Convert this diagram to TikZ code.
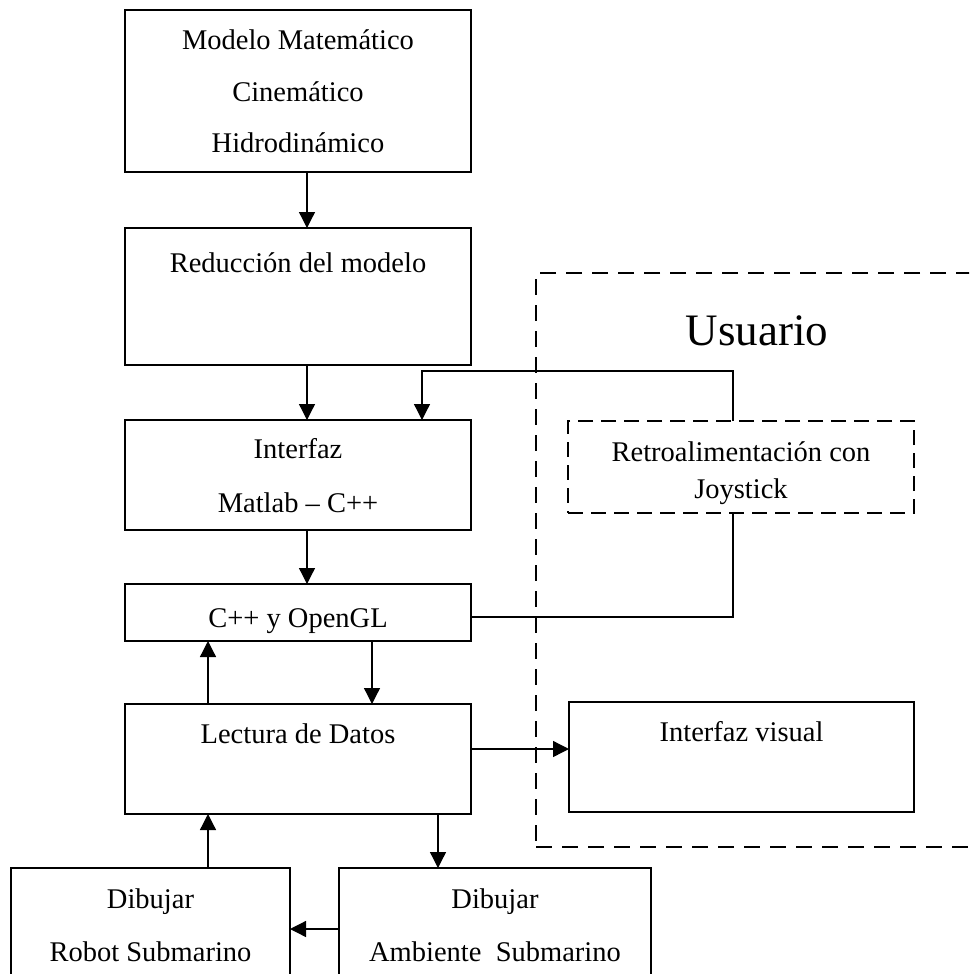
\documentclass[tikz,border=0pt]{standalone}
\usepackage{fontspec}
\setmainfont{Liberation Serif}
\usetikzlibrary{arrows.meta}
\begin{document}
\begin{tikzpicture}[x=1pt,y=-1pt,
 box/.style={draw,line width=1.7pt,inner sep=0pt,outer sep=0pt,rectangle},
 dbox/.style={box,dash pattern=on 15pt off 8pt},
 ubox/.style={box,line width=2.8pt,dash pattern=on 16pt off 10pt},
 txt/.style={font=\fontsize{28.5}{34}\selectfont,anchor=base,inner sep=0pt},
 big/.style={font=\fontsize{45}{54}\selectfont,anchor=base,inner sep=0pt},
 arr/.style={line width=1.3pt,-{Triangle[length=16pt,width=16pt]}},
 ln/.style={line width=1.3pt}]
\useasboundingbox (0,0) rectangle (969,974);
\clip (0,0) rectangle (969,974);
% user region
\node[ubox,minimum width=464pt,minimum height=574pt] (u) at (768,560) {};
\node[big] (ut) at (757,345) {Usuario};
% boxes
\node[box,minimum width=346pt,minimum height=162pt] (m) at (298,91) {};
\node[box,minimum width=346pt,minimum height=137pt] (r) at (298,296.5) {};
\node[box,minimum width=346pt,minimum height=110pt] (i) at (298,475) {};
\node[box,minimum width=346pt,minimum height=57pt] (c) at (298,612.5) {};
\node[box,minimum width=346pt,minimum height=110pt] (l) at (298,759) {};
\node[box,minimum width=345pt,minimum height=110pt] (v) at (741.5,757) {};
\node[dbox,minimum width=346pt,minimum height=92pt] (j) at (741,467) {};
\node[box,minimum width=279pt,minimum height=132pt] (rb) at (150.5,934) {};
\node[box,minimum width=312pt,minimum height=132pt] (am) at (495,934) {};
% texts
\node[txt] (m1) at (298,49) {Modelo Matemático};
\node[txt] (m2) at (298,101) {Cinemático};
\node[txt] (m3) at (298,152) {Hidrodinámico};
\node[txt] (r1) at (298,272) {Reducción del modelo};
\node[txt] (i1) at (298,458) {Interfaz};
\node[txt] (i2) at (298,512) {Matlab – C++};
\node[txt] (c1) at (298,627) {C++ y OpenGL};
\node[txt] (l1) at (298,743) {Lectura de Datos};
\node[txt] (v1) at (741.5,741) {Interfaz visual};
\node[txt] (j1) at (741,461) {Retroalimentación con};
\node[txt] (j2) at (741,498) {Joystick};
\node[txt] (rb1) at (150.5,908) {Dibujar};
\node[txt] (rb2) at (150.5,961) {Robot Submarino};
\node[txt] (am1) at (495,908) {Dibujar};
\node[txt] (am2) at (495,961) {Ambiente\ \ Submarino};
% connectors
\coordinate (fb1) at (733,371);
\coordinate (fb2) at (422,371);
\draw[arr] (307,0 |- m.south) -- (307,0 |- r.north);
\draw[arr] (307,0 |- r.south) -- (307,0 |- i.north);
\draw[arr] (307,0 |- i.south) -- (307,0 |- c.north);
\draw[arr] (j.north -| fb1) -- (fb1) -- (fb2) -- (fb2 |- i.north);
\draw[ln] (c.east |- 0,617) -- (733,617) -- (733,0 |- j.south);
\draw[arr] (208,0 |- l.north) -- (208,0 |- c.south);
\draw[arr] (372,0 |- c.south) -- (372,0 |- l.north);
\draw[arr] (l.east |- 0,749) -- (v.west |- 0,749);
\draw[arr] (208,0 |- rb.north) -- (208,0 |- l.south);
\draw[arr] (438,0 |- l.south) -- (438,0 |- am.north);
\draw[arr] (am.west |- 0,929) -- (rb.east |- 0,929);
\end{tikzpicture}
\end{document}
